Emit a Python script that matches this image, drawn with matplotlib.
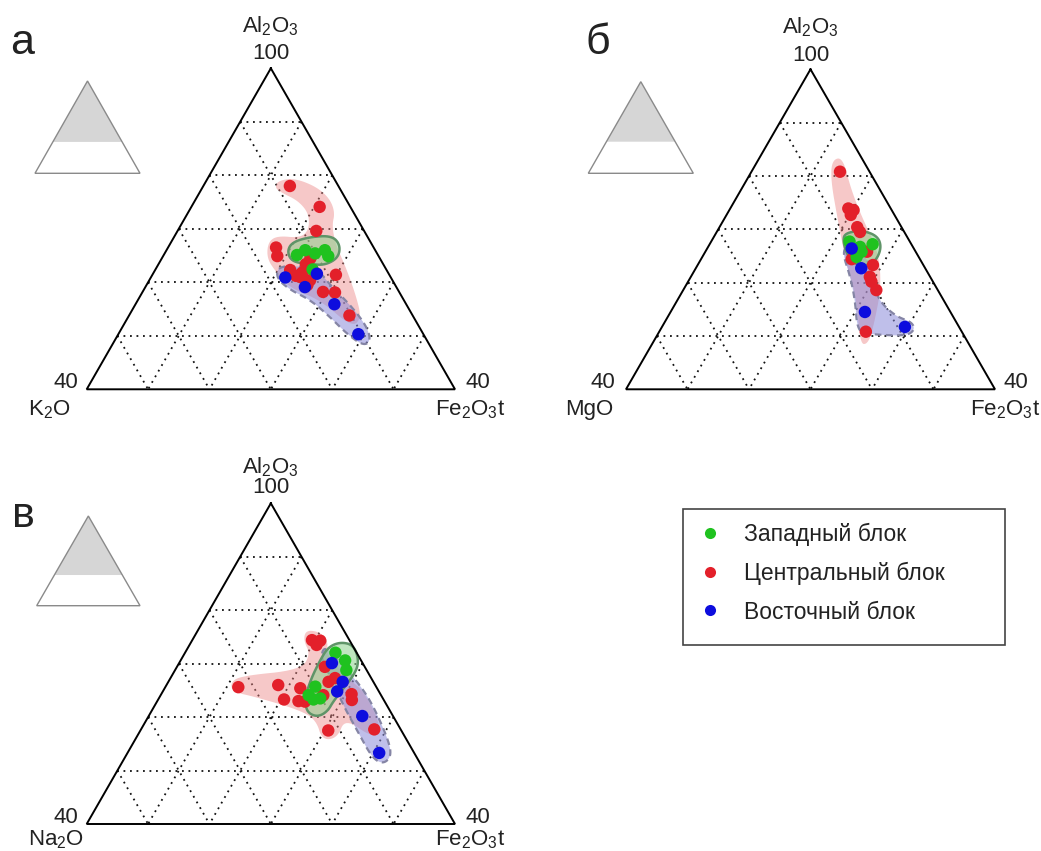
import numpy as np
import matplotlib
matplotlib.use("Agg")
import matplotlib.pyplot as plt
from matplotlib.patches import Polygon, Rectangle
from matplotlib.lines import Line2D

plt.rcParams['font.family'] = ['Liberation Sans', 'DejaVu Sans']
plt.rcParams['mathtext.fontset'] = 'custom'
plt.rcParams['mathtext.rm'] = 'Liberation Sans'
plt.rcParams['mathtext.it'] = 'Liberation Sans'
plt.rcParams['mathtext.default'] = 'regular'

# ---------------- data (wt.%, Al2O3 and Fe2O3t; third oxide = 100 - both) -------------
legend_labels = ["Западный блок", "Центральный блок", "Восточный блок"]
panel_letters = ["а", "б", "в"]
left_oxides = [r"K$_2$O", "MgO", r"Na$_2$O"]
top_oxide = r"Al$_2$O$_3$"
right_oxide = r"Fe$_2$O$_3$t"

# panel а  (Al2O3 - K2O - Fe2O3t)
red_a_al = [78.0, 74.1, 69.6, 66.5, 64.9, 62.3, 61.2, 61.8, 60.4, 59.5, 64.5, 61.4, 58.2, 58.1, 53.8, 63.4, 61.0]
red_a_fe = [14.1, 20.9, 22.6, 17.6, 18.6, 22.0, 23.5, 24.2, 26.2, 26.2, 24.2, 29.9, 29.4, 31.4, 35.9, 24.0, 24.3]
green_a_al = [65.1, 66.0, 65.4, 66.0, 64.9, 62.4]
green_a_fe = [21.7, 22.6, 24.5, 25.8, 26.9, 25.6]
blue_a_al = [60.9, 61.6, 59.1, 55.9, 50.3]
blue_a_fe = [21.9, 26.7, 26.0, 32.4, 39.1]

# panel б  (Al2O3 - MgO - Fe2O3t)
red_b_al = [80.8, 73.9, 73.6, 72.7, 70.4, 69.5, 65.8, 64.4, 63.3, 61.1, 60.2, 58.6, 50.8]
red_b_fe = [14.4, 19.2, 20.2, 20.2, 22.4, 23.3, 26.3, 24.5, 28.5, 29.1, 29.8, 31.4, 33.6]
green_b_al = [67.7, 66.7, 67.2, 64.8, 65.8]
green_b_fe = [22.5, 24.7, 26.5, 25.1, 25.4]
blue_b_al = [66.4, 62.7, 54.5, 51.7]
blue_b_fe = [23.5, 26.9, 31.6, 39.5]

# panel в  (Al2O3 - Na2O - Fe2O3t)
red_c_al = [74.4, 74.3, 73.5, 65.6, 66.0, 65.4, 63.3, 63.0, 62.9, 64.1, 66.6, 67.3, 69.4, 64.3, 63.2, 57.5, 57.7]
red_c_fe = [19.5, 20.9, 20.7, 11.9, 18.2, 22.1, 20.5, 23.0, 24.1, 26.5, 26.1, 26.8, 24.1, 31.0, 31.6, 30.6, 38.0]
green_c_al = [72.05, 70.6, 68.8, 65.7, 63.3, 63.5, 64.1]
green_c_fe = [24.5, 26.8, 27.9, 24.4, 25.3, 26.3, 24.1]
blue_c_al = [70.1, 66.6, 64.8, 60.2, 53.3]
blue_c_fe = [24.9, 28.4, 28.4, 34.8, 41.0]

# composition fields (outline vertices, Al2O3 / Fe2O3t)
field_red_a_al = [78.9, 79.5, 78.0, 75.8, 73.1, 70.5, 67.0, 62.7, 57.4, 53.3, 51.6, 56.7, 58.9, 61.9, 64.5, 67.5, 68.7, 68.3, 69.8, 72.8, 75.2, 76.7, 77.6]
field_red_a_fe = [11.6, 13.9, 18.2, 21.6, 23.9, 24.7, 27.1, 30.9, 35.2, 38.1, 37.4, 29.7, 23.7, 19.9, 17.1, 15.8, 16.7, 20.6, 21.3, 19.8, 16.9, 13.5, 11.9]
field_blue_a_al = [63.0, 63.0, 62.3, 59.5, 55.8, 52.0, 49.2, 48.1, 50.3, 53.5, 56.7, 58.6, 60.8]
field_blue_a_fe = [19.7, 23.3, 26.6, 29.9, 35.0, 39.5, 41.7, 41.1, 37.3, 32.9, 28.1, 23.8, 20.5]
field_green_a_al = [67.5, 68.5, 68.7, 67.0, 64.6, 63.2, 63.4, 63.8, 65.7]
field_green_a_fe = [19.7, 22.2, 25.6, 27.8, 28.7, 27.2, 24.7, 21.6, 19.8]

field_red_b_al = [83.0, 83.5, 77.4, 71.4, 66.1, 59.5, 52.0, 48.5, 48.5, 56.7, 64.2, 71.7, 79.2]
field_red_b_fe = [12.0, 13.5, 17.9, 23.0, 27.9, 31.8, 34.3, 35.1, 33.8, 29.2, 23.6, 18.6, 13.7]
field_blue_b_al = [66.8, 66.5, 63.8, 59.5, 56.4, 53.7, 52.6, 51.1, 50.0, 50.3, 50.7, 56.7, 61.4, 65.2]
field_blue_b_fe = [22.3, 24.4, 27.7, 30.5, 33.1, 37.0, 40.2, 41.4, 40.5, 34.8, 32.3, 28.9, 25.7, 22.7]
field_green_b_al = [69.3, 69.8, 68.7, 66.5, 63.8, 62.9, 64.8, 67.6]
field_green_b_fe = [20.9, 23.6, 26.6, 28.3, 28.6, 26.6, 23.7, 21.5]

field_red_c_al = [76.3, 75.9, 74.1, 71.6, 66.9, 64.7, 58.0, 56.1, 59.8, 56.1, 55.7, 59.4, 61.3, 63.8, 64.7, 66.4, 67.7, 68.8, 71.7, 74.4]
field_red_c_fe = [17.6, 20.1, 22.3, 23.2, 29.5, 32.9, 39.1, 38.5, 32.2, 32.8, 30.5, 27.7, 24.1, 15.5, 11.5, 10.2, 11.2, 20.4, 20.6, 18.1]
field_blue_c_al = [73.5, 69.2, 65.5, 61.7, 55.7, 52.7, 51.2, 52.4, 57.2, 62.3, 67.0, 71.1]
field_blue_c_fe = [22.1, 27.5, 32.1, 36.0, 41.3, 43.3, 42.7, 40.3, 35.6, 30.6, 26.5, 22.5]
field_green_c_al = [74.05, 73.5, 70.7, 68.1, 63.2, 61.0, 60.0, 61.0, 63.6, 66.9, 70.6, 73.1]
field_green_c_fe = [24.3, 26.7, 29.0, 29.7, 28.7, 28.7, 27.5, 25.3, 23.8, 23.0, 22.7, 22.8]

AL_MIN = 40            # lower limit of the enlarged sub-triangle
GRID_STEP = 10

# ---------------- styling --------------------------------------------------------------
W, H = 1041, 851
fig = plt.figure(figsize=(W / 100, H / 100), dpi=100)
S = np.sqrt(3) / 2

C_GREEN, C_RED, C_BLUE = "#1fc21f", "#e3202a", "#0d0dde"
F_RED = (0.93, 0.52, 0.52, 0.45)
F_BLUE = (0.55, 0.55, 0.85, 0.55)
F_GREEN = (0.55, 0.82, 0.55, 0.55)
E_BLUE = "#8585a5"
E_GREEN = "#5f9468"
FS = 16
GRID_KW = dict(color="#111111", lw=1.3, ls=(0, (1, 2.6)), zorder=0.5, clip_on=False)


def proj(al, fe):
    al = np.asarray(al, float)
    fe = np.asarray(fe, float)
    return fe + al / 2.0, al * S


def chaikin(x, y, n=3):
    p = np.column_stack([x, y])
    for _ in range(n):
        q = np.roll(p, -1, axis=0)
        a = 0.75 * p + 0.25 * q
        b = 0.25 * p + 0.75 * q
        p = np.empty((2 * len(a), 2))
        p[0::2] = a
        p[1::2] = b
    return p


def px_axes(left, top, right, bottom):
    return fig.add_axes([left / W, 1 - bottom / H, (right - left) / W, (bottom - top) / H])


def field(ax, al, fe, fc, ec=None, ls="-", lw=1.5, z=1):
    x, y = proj(al, fe)
    pts = chaikin(x, y)
    ax.add_patch(Polygon(pts, closed=True, facecolor=fc, edgecolor="none", zorder=z, clip_on=False))
    if ec is not None:
        ax.add_patch(Polygon(pts, closed=True, facecolor="none", edgecolor=ec, linestyle=ls,
                             linewidth=lw, zorder=z + 0.1, clip_on=False))


def panel(box, left_label, pts, fields, offs):
    ax = px_axes(*box)
    ax.set_xlim(20, 80)
    ax.set_ylim(AL_MIN * S, 100 * S)
    ax.axis("off")
    # grid
    for a in range(AL_MIN + GRID_STEP, 100, GRID_STEP):
        x, y = proj([a, a], [0, 100 - a])
        ax.plot(x, y, **GRID_KW)
    for f in range(GRID_STEP, 100 - AL_MIN, GRID_STEP):
        x, y = proj([100 - f, AL_MIN], [f, f])
        ax.plot(x, y, **GRID_KW)
        x, y = proj([100 - f, AL_MIN], [0, 100 - AL_MIN - f])
        ax.plot(x, y, **GRID_KW)
    # fields
    (ra, rf), (ba, bf), (ga, gf) = fields
    field(ax, ra, rf, F_RED, z=1)
    field(ax, ba, bf, F_BLUE, ec=E_BLUE, ls=(0, (3, 2)), lw=1.6, z=1.2)
    field(ax, ga, gf, F_GREEN, ec=E_GREEN, ls="-", lw=1.8, z=1.4)
    # outline
    x, y = proj([100, AL_MIN, AL_MIN, 100], [0, 0, 100 - AL_MIN, 0])
    ax.plot(x, y, color="k", lw=1.4, zorder=3, clip_on=False, solid_joinstyle="miter")
    # points
    for (al, fe), c in zip(pts, [C_RED, C_GREEN, C_BLUE]):
        x, y = proj(al, fe)
        ax.scatter(x, y, s=80, color=c, edgecolors="none", zorder=5, clip_on=False)
    # labels
    top = proj(100, 0)
    bl = proj(AL_MIN, 0)
    br = proj(AL_MIN, 100 - AL_MIN)
    kw = dict(textcoords="offset pixels", fontsize=FS, va="baseline", annotation_clip=False,
              color="#222222")
    ax.annotate("100", xy=top, xytext=(0, offs[0]), ha="center", **kw)
    ax.annotate(top_oxide, xy=top, xytext=(0, offs[1]), ha="center", **kw)
    ax.annotate(str(AL_MIN), xy=bl, xytext=(offs[2], 1), ha="right", **kw)
    ax.annotate(left_label, xy=bl, xytext=(offs[3], offs[4]), ha="left", **kw)
    ax.annotate(str(AL_MIN), xy=br, xytext=(offs[5], 1), ha="left", **kw)
    ax.annotate(right_oxide, xy=br, xytext=(offs[6], offs[4]), ha="left", **kw)


def inset(box, frac):
    ax = px_axes(*box)
    ax.set_xlim(0, 1)
    ax.set_ylim(0, S)
    ax.axis("off")
    yc = S * (1 - frac)
    xl = (1 - frac) * 0.5
    ax.add_patch(Polygon([[0.5, S], [xl, yc], [1 - xl, yc]], closed=True, facecolor="#d6d6d6",
                         edgecolor="none", clip_on=False))
    ax.add_patch(Polygon([[0, 0], [1, 0], [0.5, S]], closed=True, facecolor="none",
                         edgecolor="#8a8a8a", lw=1.0, clip_on=False))


panel((86.7, 68.3, 455, 389.3), left_oxides[0],
      [(red_a_al, red_a_fe), (green_a_al, green_a_fe), (blue_a_al, blue_a_fe)],
      [(field_red_a_al, field_red_a_fe), (field_blue_a_al, field_blue_a_fe),
       (field_green_a_al, field_green_a_fe)],
      (9, 36, -8, -59, -26, 10, -20))
panel((626, 69.3, 995, 389.3), left_oxides[1],
      [(red_b_al, red_b_fe), (green_b_al, green_b_fe), (blue_b_al, blue_b_fe)],
      [(field_red_b_al, field_red_b_fe), (field_blue_b_al, field_blue_b_fe),
       (field_green_b_al, field_green_b_fe)],
      (8, 36, -11, -61, -26, 8, -25))
panel((86.7, 503.3, 455, 824), left_oxides[2],
      [(red_c_al, red_c_fe), (green_c_al, green_c_fe), (blue_c_al, blue_c_fe)],
      [(field_red_c_al, field_red_c_fe), (field_blue_c_al, field_blue_c_fe),
       (field_green_c_al, field_green_c_fe)],
      (10, 30, -8, -59, -21, 10, -20))

inset((35, 81, 140, 173.3), 0.66)
inset((588.3, 81.7, 693.3, 173.3), 0.655)
inset((36.7, 516, 140, 605.7), 0.658)

for t, (x, y) in zip(panel_letters, [(10, 53.5), (585, 53.5), (12, 527)]):
    fig.text(x / W, 1 - y / H, t, fontsize=31, ha="left", va="baseline", color="#222222")

# legend
fig.patches.append(Rectangle((683 / W, 1 - 645 / H), 322 / W, 136 / H, transform=fig.transFigure,
                             facecolor="white", edgecolor="#444444", lw=1.2, zorder=0))
leg_handles = [Line2D([], [], ls="none", marker="o", ms=8, mfc=c, mec="none")
               for c in [C_GREEN, C_RED, C_BLUE]]
fig.legend(leg_handles, legend_labels, loc="upper left", bbox_to_anchor=(699 / W, 1 - 523 / H),
           frameon=False, fontsize=16.5, handlelength=1.0, handletextpad=0.95, labelspacing=0.68,
           borderpad=0.0, borderaxespad=0.0, labelcolor="#222222")

fig.savefig("out.png", dpi=100, facecolor="white")
